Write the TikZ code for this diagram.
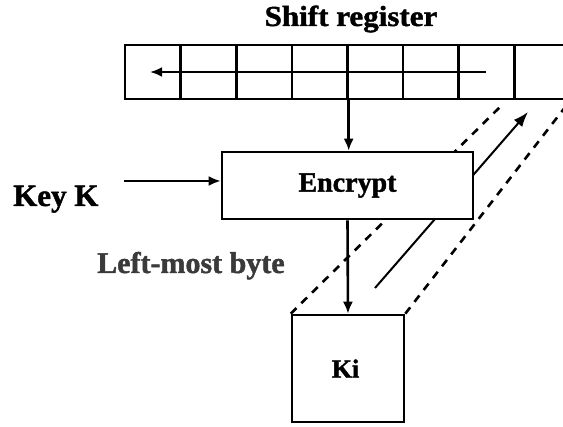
\documentclass[tikz,border=0pt]{standalone}
\usepackage{fontspec}
\setmainfont{Liberation Serif}[BoldFeatures={FakeBold=1.4}]
\usetikzlibrary{arrows.meta,backgrounds,calc}
\definecolor{lmbgray}{HTML}{3A3A3A}
\tikzset{
  ln/.style={line width=2.6pt},
  box/.style={ln, draw=black, fill=white, inner sep=0pt},
  cell/.style={ln, draw=black, minimum width=55.6pt, minimum height=54pt, inner sep=0pt},
  arr/.style={ln, -{Latex[length=12pt,width=10pt]}},
  dsh/.style={line width=2.6pt, dash pattern=on 8pt off 7pt},
  lbl/.style={font=\bfseries, inner sep=0pt}
}
\begin{document}
\begin{tikzpicture}[x=1pt,y=-1pt]
\useasboundingbox (0,0) rectangle (563,427);
\clip (0,0) rectangle (563,427);
% title
\node[lbl, anchor=base, font=\bfseries\fontsize{29}{31}\selectfont, xscale=1.07] (title) at (351,26) {Shift register};
% register cells
\foreach \i in {1,...,8}
  \node[cell] (c\i) at ({125+55.6*(\i-0.5)},72) {};
\coordinate (ra) at (486,72);
\coordinate (rb) at (150,72);
\draw[arr] (ra) -- (rb);
% encrypt
\node[box, minimum width=251pt, minimum height=67pt, font=\bfseries\fontsize{28}{30}\selectfont] (enc) at (347.5,185.5) {Encrypt};
% Ki
\node[box, minimum width=112pt, minimum height=107pt, font=\bfseries\fontsize{26}{30}\selectfont, text depth=0pt] (ki) at (348,368.5) {\hspace*{-5pt}Ki};
% labels
\node[lbl, anchor=base west, font=\bfseries\fontsize{31}{34}\selectfont] (key) at (13,206) {Key K};
\node[lbl, anchor=base west, text=lmbgray, font=\bfseries\fontsize{30}{33}\selectfont] (lmb) at (97,273) {Left-most byte};
% arrows
\draw[arr] (c4.south east) -- (c4.south east |- enc.north);
\coordinate (kstart) at (124,181);
\draw[arr] (kstart) -- (kstart -| enc.west);
\draw[arr] (enc.south) -- (ki.north);
% diagonal lines behind the boxes
\coordinate (dl) at (503,104);
\coordinate (dr) at (573,97);
\coordinate (ms) at (375,288);
\coordinate (me) at (528,112);
\begin{pgfonlayer}{background}
\draw[dsh] (ki.north west) -- (dl);
\draw[dsh] (ki.north east) -- (dr);
\draw[ln, line width=2pt, -{Latex[length=15pt,width=11pt]}] (ms) -- (me);
\end{pgfonlayer}
\end{tikzpicture}
\end{document}
